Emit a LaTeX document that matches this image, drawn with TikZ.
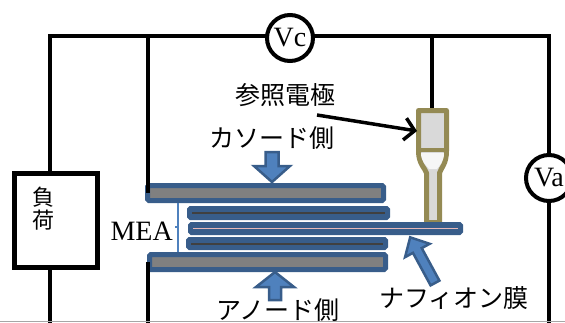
\documentclass[tikz,border=0pt]{standalone}
\usepackage{fontspec}
\setmainfont{Liberation Serif}
\newfontfamily\jp{Noto Sans CJK JP}
\usetikzlibrary{arrows.meta}
\definecolor{plateblue}{HTML}{385D8A}
\definecolor{arrowblue}{HTML}{4F81BD}
\definecolor{plategray}{HTML}{808080}
\definecolor{gdlline}{HTML}{404040}
\definecolor{nafionpink}{HTML}{E6B9B8}
\definecolor{electrodeolive}{HTML}{948A54}
\definecolor{glassgray}{HTML}{D9D9D9}

% block arrow: tail x, tail y, angle, length, head length, head half-width, shaft half-width
\newcommand\drawblockarrow[7]{%
  \draw[blockarrow, shift={(#1,#2)}, rotate=#3]
    (0,-#7) -- (#4-#5,-#7) -- (#4-#5,-#6) -- (#4,0) -- (#4-#5,#6) -- (#4-#5,#7) -- (0,#7) -- cycle;}

\begin{document}
\begin{tikzpicture}[x=1pt, y=-1pt,
  wire/.style={draw=black, line width=4pt, line join=miter},
  meter/.style={circle, draw=black, line width=4pt, fill=white, minimum size=46pt,
    inner sep=0pt, font=\fontsize{28}{28}\selectfont},
  plate/.style={draw=plateblue, fill=plategray, line width=5pt, rounded corners=1.5pt,
    inner sep=0pt, outer sep=0pt, anchor=north west},
  layer/.style={draw=plateblue, fill=plateblue, line width=4pt, rounded corners=1.5pt,
    inner sep=0pt, outer sep=0pt, anchor=north west},
  jptext/.style={font=\jp\fontsize{25}{25}\selectfont, inner sep=0pt},
  blockarrow/.style={draw=plateblue, fill=arrowblue, line width=2.5pt, line join=miter}]

\useasboundingbox (0,0) rectangle (565,322);

% circuit junctions
\coordinate (tl) at (50,36);
\coordinate (tj) at (148,36);
\coordinate (rj) at (432,36);
\coordinate (tr) at (549,36);
\coordinate (bl) at (50,324);
\coordinate (bj) at (148,324);
\coordinate (br) at (549,324);

% load
\node[draw=black, line width=4.5pt, minimum width=83pt, minimum height=94pt,
  inner sep=0pt, anchor=north west] (load) at (12,171) {};
\node[jptext, font=\jp\fontsize{22}{22}\selectfont] (loadA) at (43,197) {負};
\node[jptext, font=\jp\fontsize{22}{22}\selectfont] (loadB) at (43,220) {荷};

% outer loop and right wire
\draw[wire] (load.north -| tl) -- (tl) -- (tr) -- (br);
\draw[wire] (load.south -| tl) -- (bl);

% reference electrode lead
\draw[wire] (rj) -- (432,110);

% reference electrode body: upper barrel, rounded bowl, thin stem
\draw[draw=electrodeolive, fill=glassgray, line width=5pt, line join=round]
  (418.5,110.5) -- (446.5,110.5) -- (446.5,151)
  .. controls (446.5,164) and (441,168) .. (439.5,173) -- (439.5,222.5)
  -- (426.5,222.5) -- (426.5,173)
  .. controls (425,168) and (418.5,164) .. (418.5,151) -- cycle;
\fill[white!93!gray] (421,153) -- (444,153)
  .. controls (444,162) and (439,166) .. (437,169) -- (429,169)
  .. controls (427,166) and (421,162) .. (421,153) -- cycle;
\draw[electrodeolive, line width=4pt] (418.5,150) -- (446.5,150);
\coordinate (refbody) at (417,131);

% MEA stack
\node[plate, minimum width=236pt, minimum height=15pt] (cathode) at (147.5,185.5) {};
\node[layer, minimum width=199pt, minimum height=10pt] (gdlC) at (189,208) {};
\draw[gdlline, line width=2pt] ([xshift=3pt]gdlC.west) -- ([xshift=-3pt]gdlC.east);
\node[layer, minimum width=271pt, minimum height=9pt] (membrane) at (190,224) {};
\draw[nafionpink, line width=1.5pt] ([xshift=3pt]membrane.west) -- ([xshift=-3pt]membrane.east);
\node[layer, minimum width=198pt, minimum height=9pt] (gdlA) at (188,239) {};
\draw[gdlline, line width=2pt] ([xshift=3pt]gdlA.west) -- ([xshift=-3pt]gdlA.east);
\node[plate, minimum width=236pt, minimum height=15pt] (anode) at (149.5,254.5) {};

% leads into the plates
\draw[wire] (tj) -- (tj |- cathode.west);
\draw[wire] (tj |- anode.west) -- (bj);

% MEA bracket
\draw[arrowblue, line width=2.5pt] (178,203) -- (178,252);
\draw[arrowblue, line width=2pt] (178,227) -- (175,227);
\node[anchor=east, inner sep=0pt, font=\fontsize{28}{28}\selectfont] (mea) at (173,231) {MEA};

% block arrows
\drawblockarrow{272}{152}{-90}{30}{16}{18}{6.5}
\drawblockarrow{275}{300}{90}{28}{15}{19}{6}
\drawblockarrow{435}{283}{118.5}{52}{15}{14}{5}

% labels
\node[jptext] (reflabel) at (285,95) {参照電極};
\node[jptext] (cathlabel) at (272,138) {カソード側};
\node[jptext] (anlabel) at (278,310) {アノード側};
\node[jptext] (naflabel) at (454,298) {ナフィオン膜};

% pointer to the reference electrode
\coordinate (refstart) at (317,115);
\draw[line width=3.5pt, -{Straight Barb[length=10pt,width=22pt]}] (refstart) -- (refbody);

% voltmeters
\node[meter] (vc) at (290,38) {Vc};
\node[meter] (va) at (549,178) {Va};

% lower frame edge
\draw[gray!70, line width=1pt] (0,321.5) -- (565,321.5);
\end{tikzpicture}
\end{document}
